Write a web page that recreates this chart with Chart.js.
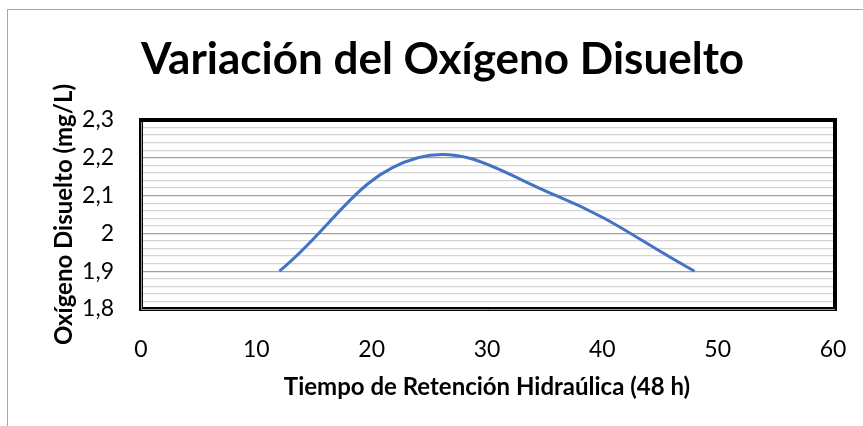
<!DOCTYPE html>
<html>
<head>
<meta charset="utf-8">
<script src="https://cdn.jsdelivr.net/npm/chart.js@4/dist/chart.umd.min.js"></script>
<style>
  html, body { margin: 0; padding: 0; background: #fff; }
  #wrap { position: relative; width: 863px; height: 426px; }
  #edge { position: absolute; left: 7px; top: 9px; right: 0; bottom: 0; border-top: 1px solid #a6a6a6; border-left: 1px solid #a6a6a6; pointer-events: none; }
</style>
</head>
<body>
<div id="wrap">
  <canvas id="chart" width="863" height="426"></canvas>
  <div id="edge"></div>
</div>
<script>
const hours = [12, 24, 36, 48];
const oxygen = [1.9, 2.2, 2.1, 1.9];
const xTicks = [0, 10, 20, 30, 40, 50, 60];
const yTicks = [1.8, 1.9, 2.0, 2.1, 2.2, 2.3];

const FONT = 'Lato, "Open Sans", sans-serif';

const isMajor = v => Math.abs(v * 10 - Math.round(v * 10)) < 1e-6;

// thick Excel-like frame round the plot area
const framePlugin = {
  id: 'frame',
  afterDraw(chart) {
    const { ctx, chartArea: a } = chart;
    ctx.save();
    ctx.strokeStyle = '#000';
    ctx.lineWidth = 4;
    ctx.strokeRect(a.left, a.top, a.right - a.left + 2, a.bottom - a.top);
    ctx.strokeStyle = '#9a9a9a';
    ctx.lineWidth = 1;
    ctx.beginPath();
    ctx.moveTo(a.left + 0.5, a.top + 2);
    ctx.lineTo(a.left + 0.5, a.bottom + 0.5);
    ctx.lineTo(a.right + 2, a.bottom + 0.5);
    ctx.stroke();
    ctx.restore();
  }
};

new Chart(document.getElementById('chart'), {
  type: 'scatter',
  data: {
    datasets: [{
      data: hours.map((h, i) => ({ x: h, y: oxygen[i] })),
      showLine: true,
      borderColor: '#4472C4',
      borderWidth: 3,
      pointRadius: 0,
      tension: 0.4,
      cubicInterpolationMode: 'default'
    }]
  },
  options: {
    responsive: false,
    animation: false,
    layout: { padding: { left: 52, right: 30, top: 0, bottom: 0 } },
    plugins: {
      legend: { display: false },
      tooltip: { enabled: false },
      title: {
        display: true,
        text: 'Variación del Oxígeno Disuelto',
        color: '#000',
        font: { family: FONT, size: 44, weight: 'bold', lineHeight: 1.2 },
        padding: { top: 33.6, bottom: 33.6 }
      }
    },
    scales: {
      x: {
        type: 'linear',
        min: xTicks[0], max: xTicks[xTicks.length - 1],
        afterBuildTicks: s => { s.ticks = xTicks.map(v => ({ value: v })); },
        afterFit: s => { s.height = 117; s.paddingLeft = 0; s.paddingRight = 0; },
        grid: { display: false, drawTicks: false },
        border: { display: false },
        ticks: { color: '#000', padding: 27, font: { family: FONT, size: 23 } },
        title: {
          display: true,
          text: 'Tiempo de Retención Hidraúlica (48 h)',
          color: '#000',
          font: { family: FONT, size: 24, weight: 'bold' },
          padding: 24
        }
      },
      y: {
        type: 'linear',
        min: yTicks[0], max: yTicks[yTicks.length - 1],
        afterFit: s => { s.width = 89; },
        grid: {
          drawTicks: false,
          lineWidth: 1.3,
          color: c => isMajor(c.tick.value) ? '#a0a0a0' : '#d4d4d4'
        },
        border: { display: false },
        ticks: {
          stepSize: 0.02,
          maxTicksLimit: 100,
          autoSkip: false,
          padding: 27,
          color: '#000',
          font: { family: FONT, size: 23 },
          callback: v => isMajor(v) ? String(Math.round(v * 10) / 10).replace('.', ',') : ''
        },
        title: {
          display: true,
          text: 'Oxígeno Disuelto (mg/L)',
          color: '#000',
          font: { family: FONT, size: 24, weight: 'bold' },
          padding: { top: -2.4, bottom: 0 }
        }
      }
    }
  },
  plugins: [framePlugin]
});
</script>
</body>
</html>
